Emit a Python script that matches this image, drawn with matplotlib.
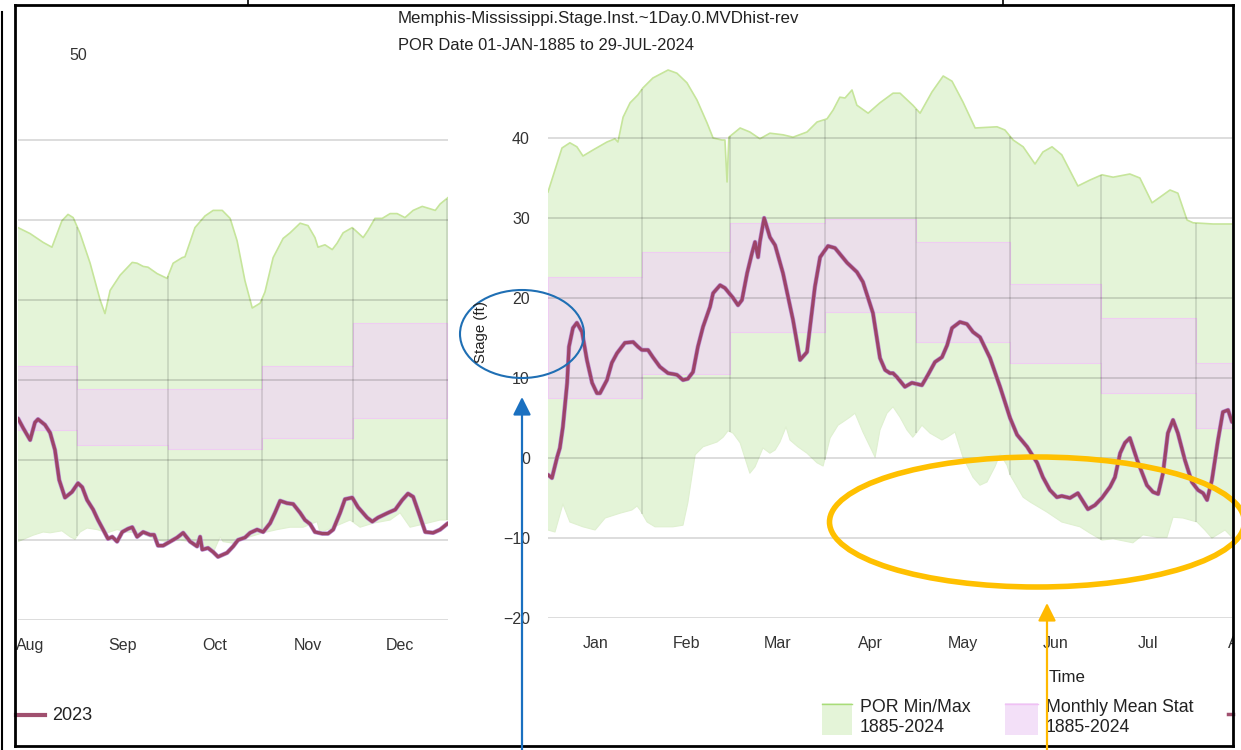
import numpy as np
import matplotlib
matplotlib.use("Agg")
import matplotlib.pyplot as plt
import matplotlib.patheffects as pe
from matplotlib.patches import Ellipse, Rectangle
from matplotlib.lines import Line2D

plt.rcParams['font.family'] = ['Liberation Sans', 'DejaVu Sans']

# ---- 2023 panel (days counted from 01-Aug-2023) ----
months_23 = ["Aug", "Sep", "Oct", "Nov", "Dec"]
month_start_23 = [0, 31, 61, 92, 122, 153]
mean_lo_23 = [3.7, 1.9, 1.4, 2.7, 5.2]
mean_hi_23 = [11.8, 8.85, 8.85, 11.8, 17.1]

max_day_23 = [11.5, 15.5, 19.8, 22.7, 24.4, 26, 28, 29.7, 32, 35.3, 38.6, 40.2, 41.9, 45.2,
              49.2, 50.8, 52.8, 54.4, 57.4, 60.7, 62.7, 65.7, 66.6, 69.9, 73.2, 75.9, 78.9,
              81.5, 83.8, 86.4, 88.8, 91.4, 93, 95.7, 99, 101.3, 104.6, 107.2, 109.5, 110.5,
              112.8, 115.2, 116.8, 118.8, 121.8, 123.7, 125.4, 127, 129.3, 131.7, 134.3,
              136.6, 139.2, 141.9, 144.9, 147.5, 149.2, 150.8, 153.4]
por_max_23 = [29.05, 28.3, 27.2, 26.6, 28.3, 29.9, 30.7, 30.3, 28.3, 24.6, 20, 18.3, 21.2, 23.1,
              24.7, 24.6, 24.2, 24.1, 23.3, 22.7, 24.6, 25.3, 25.4, 29.05, 30.5, 31.2, 31.2,
              30.2, 27.4, 22.4, 19, 19.6, 21, 25.3, 27.7, 28.4, 29.6, 29.3, 27.8, 26.6,
              26.9, 26.3, 27.1, 28.4, 29.05, 28.4, 27.8, 28.7, 30.2, 30.2, 30.8,
              30.8, 30.3, 31.2, 31.7, 31.4, 31.2, 32, 32.8]

min_day_23 = [11.5, 16.5, 19.8, 22.1, 26, 28.7, 30.3, 32, 34.3, 37.6, 40.9, 44.2, 47.5, 51.8,
              57.4, 60.7, 65, 68.3, 71.6, 75.9, 78.2, 79.2, 82.5, 87.1, 92.4, 97, 101.3,
              105.6, 110.2, 111.2, 115.5, 121.1, 124.4, 128.7, 134.3, 137.6, 140.9, 146.5,
              150.8, 153.4]
por_min_23 = [-10.2, -9.4, -9, -9.1, -8.85, -9.6, -9.9, -9, -8.5, -8.7, -9.1, -8.7, -9, -9.1,
              -10, -10.2, -10, -10.2, -10.4, -11.6, -9.6, -10.2, -10.4, -9.7, -9.1, -8.7, -8.4,
              -8.4, -7.7, -9.1, -8.4, -7.5, -8.4, -7.9, -7.5, -6.6, -8.4, -7.9,
              -7.5, -7.5]

stage_day_23 = [11.5, 13.2, 15.5, 17.1, 18.1, 20.4, 22.1, 23.7, 25.1, 27, 29.3, 31.3, 32.7, 34.3,
                36.3, 37.9, 39.6, 41.2, 42.6, 44.2, 45.9, 47.8, 49.2, 50.8, 52.8, 55.1, 56.4,
                57.7, 59.4, 61.7, 64, 66, 68.3, 70.6, 71.6, 72.3, 74.2, 75.9, 77.5, 80.5, 82.5,
                84.1, 86.4, 88.1, 90.4, 92.4, 94.7, 96.3, 98, 100.3, 102.3, 104.6, 106.2,
                107.9, 109.5, 111.9, 113.8, 115.5, 117.8, 119.4, 121.8, 123.7, 126.7, 128.4,
                130.3, 133.6, 136, 138.3, 140.2, 141.9, 144.2, 145.9, 148.5, 150.8, 153.4]
stage_23 = [5.2, 4, 2.5, 4.7, 5.1, 4.4, 3.4, 1.25, -2.5, -4.7, -4, -2.9, -3.4, -5,
            -6.2, -7.5, -8.7, -9.85, -9.6, -10.2, -9, -8.6, -8.4, -9.6, -9, -9.35, -9.35,
            -10.7, -10.7, -10.2, -9.7, -9.1, -10.2, -10.8, -9.6, -11.2, -11, -11.5, -12.1, -11.6, -10.8,
            -10, -9.7, -9.1, -8.7, -9, -7.9, -6.6, -5.1, -5.4, -5.5, -6.6, -7.5,
            -8, -9, -9.2, -9.2, -8.7, -6.6, -4.9, -4.7, -5.9, -7.2, -7.7,
            -7.2, -6.6, -6.2, -5, -4.2, -4.6, -7.1, -9, -9.1, -8.7, -7.9]

# ---- 2024 panel (days counted from 01-Jan-2024) ----
months_24 = ["Jan", "Feb", "Mar", "Apr", "May", "Jun", "Jul", "Aug"]
month_start_24 = [0, 31, 60, 91, 121, 152, 182, 213, 244]
mean_lo_24 = [7.5, 10.5, 15.75, 18.25, 14.5, 11.9, 8.1, 3.75]
mean_hi_24 = [22.6, 25.75, 29.4, 29.9, 27, 21.75, 17.5, 11.9]

max_day_24 = [0, 2.3, 4.6, 7.2, 9.5, 11.5, 14.8, 19.4, 22, 23, 24.7, 27, 29.6, 31.2, 34.5, 39.5,
              42.4, 45.7, 49, 52.3, 54.3, 57.2, 58.2, 58.9, 59.5, 63.2, 66.4, 69.7, 73, 77.3,
              80.6, 85.2, 88.5, 91.8, 93.8, 96, 97.7, 100, 101.6, 105.3, 109.2, 113.5, 115.8,
              120, 122.4, 126.3, 130, 132.9, 136.5, 140.5, 147.7, 150.3, 153, 156.3, 160.2,
              162.8, 165.8, 169, 174.3, 178.3, 182.2, 185.9, 191.4, 194.7, 198.7, 201.3,
              204.6, 207.2, 210.2, 212.2, 218.8, 225]
por_max_24 = [33.25, 36, 38.75, 39.4, 38.9, 37.75, 38.5, 39.5, 39.9, 39.5, 42.6, 44.4, 45.4, 46.25,
              47.5, 48.5, 48.1, 46.9, 44.75, 41.9, 40, 39.75, 39.75, 34.5, 40.1, 41.25, 40.75,
              39.9, 40.6, 40.4, 40.1, 40.75, 42, 42.4, 43.5, 45.1, 45, 46, 44.1, 43.1, 44.4,
              45.6, 45.6, 44.1, 43.1, 45.75, 47.75, 47.1, 44.5, 41.25, 41.4, 41, 39.75, 38.9,
              36.75, 38.25, 38.9, 37.9, 34, 34.75, 35.4, 35.1, 35.5, 35, 31.9, 32.6, 33.5,
              33.1, 29.75, 29.4, 29.25, 29.25]

min_day_24 = [0, 2.3, 4.9, 7.2, 11.5, 15.5, 18.8, 23.7, 27.6, 29.3, 30.3, 32.6, 35.2, 41.1, 44.4,
              46, 48.4, 51, 55.6, 57.6, 59.2, 60.9, 63.2, 66.4, 68.1, 70.7, 73, 74.7, 76.3,
              78.3, 79.6, 82.2, 85.2, 88.5, 90.5, 92.8, 95.4, 97, 99.3, 101, 103.6, 107.6,
              109.2, 111.5, 113.5, 115.8, 118.1, 120, 121.4, 123, 125.7, 129.6, 131.3, 133.9,
              136.5, 139.8, 142.1, 144.4, 147, 148.7, 151, 152, 156.3, 158.6, 164.1, 169, 175,
              178.3, 182.2, 185.9, 192.4, 195.7, 200.3, 203.6, 205.6, 208.9, 213.5, 216.1,
              218.4, 221, 222.7, 225]
por_min_24 = [-9, -9.25, -5.75, -8, -8.6, -9, -7.5, -6.9, -6.5, -6, -6.5, -8, -8.6, -8.6, -8.4,
              -5.6, 0.4, 1.4, 2, 2.6, 3.4, 3.1, 1.9, -1.9, -1.1, 1.25, 0.6, 1, 2,
              3.9, 2.25, 1.4, 0.6, -0.6, -1, 2.5, 4.1, 4.5, 5.1, 5.6, 3.25, 0.1,
              3.5, 5.6, 6.4, 5.1, 3.5, 2.6, 3.25, 4.1, 3.1, 2.25, 2.6, 3.25,
              0.1, -2.4, -3.4, -3, -1.1, 0.5, -0.9, -2.1, -4.9, -5.5, -6.75, -8, -8.6,
              -9.4, -10.25, -10.1, -10.6, -9.6, -9.9, -9.9, -7.4, -7.5, -8, -9,
              -10, -9.4, -9, -9.9]

stage_day_24 = [0, 1.3, 3, 3.9, 4.9, 6.3, 6.9, 8.2, 9.5, 11.2, 12.8, 14.5, 16.1, 17.1, 19.4, 21,
                22.7, 25.3, 28, 29.6, 30.9, 32.9, 34.5, 36.8, 39.5, 41.1, 42.4, 44.4, 46, 47.7,
                49.3, 51, 53.3, 54.3, 56.6, 58.2, 60.9, 62.5, 63.8, 65.5, 67.1, 68.1, 69.1, 69.7,
                71.1, 73, 74.7, 77.3, 80.6, 82.9, 85.2, 86.2, 87.8, 89.5, 92.1, 94.4, 98.4,
                101.6, 103.6, 106.9, 109.2, 110.9, 112.5, 113.5, 114.8, 117.4, 119.7, 123, 125,
                127.3, 129.6, 131.3, 132.9, 135.5, 137.8, 139.8, 142.1, 145.4, 148.7, 152,
                154.3, 157.6, 160.9, 162.8, 165.1, 167.4, 169, 171.7, 174.3, 177.6, 179.9,
                182.2, 184.9, 186.5, 188.2, 189.8, 191.4, 193.8, 197, 199, 200.7, 202.3, 203.9,
                205.6, 207.2, 209.5, 211.8, 213.8, 215.5, 216.8, 218.4, 220.4, 222, 223.7, 225]
stage_24 = [-2.1, -2.5, 0.1, 1.25, 3.9, 9.4, 13.9, 16.25, 16.9, 15.75, 12.25, 9.4, 8.1, 8.1, 9.75, 11.9,
            13.1, 14.4, 14.5, 13.9, 13.5, 13.5, 12.6, 11.4, 10.6, 10.5, 10.4, 9.75, 9.9, 10.75,
            13.9, 16.4, 18.9, 20.6, 21.6, 21.25, 20, 19.1, 19.75, 23.1, 25.6, 27, 25.1, 27,
            30, 27.6, 26.6, 23.1, 17.25, 12.25, 13.25, 16.4, 21.4, 25.1, 26.5, 26.25, 24.4,
            23.25, 22, 18.1, 12.5, 11, 10.6, 10.6, 10.1, 8.9, 9.4, 9.1, 10.4,
            12, 12.6, 14.1, 16.25, 17, 16.75, 15.75, 15.1, 12.5, 8.9, 5,
            2.9, 1.4, -0.6, -2.4, -4, -4.9, -4.75, -5, -4.4, -6.4, -5.9,
            -5, -3.6, -2.4, 0.6, 1.9, 2.5, -0.25, -3.4, -4.25, -4.5, -1.9, 3.1,
            4.75, 3.1, -0.25, -3, -4, -4.4, -5.25, -2.75, 2.25, 5.75, 6, 4.5]

GREEN = '#e4f4d8'
GREEN_EDGE = '#c6e59b'
PINK = '#ebdfea'
PINK_EDGE = '#efcdf2'
LINE = '#9c4468'

W, H = 1241, 750
fig = plt.figure(figsize=(W / 100, H / 100), dpi=100)


def panel(rect, xlim, months, starts, lo, hi, mx_d, mx, mn_d, mn, st_d, st, show_y):
    ax = fig.add_axes(rect)
    # POR envelope polygon
    poly_x = list(mx_d) + list(mn_d)[::-1]
    poly_y = list(mx) + list(mn)[::-1]
    ax.fill(poly_x, poly_y, color=GREEN, lw=0, zorder=1)
    ax.plot(mx_d, mx, color=GREEN_EDGE, lw=1.2, zorder=1.2)
    ax.plot(mn_d, mn, color='#dff0d0', lw=0.8, zorder=1.2)
    # monthly mean band
    ax.fill_between(starts, lo + [lo[-1]], hi + [hi[-1]], step='post',
                    color=PINK, edgecolor=PINK_EDGE, lw=0.8, zorder=1.3)
    # month separators inside the envelope
    for s in starts[1:]:
        if xlim[0] < s < xlim[1]:
            top = np.interp(s, mx_d, mx)
            bot = np.interp(s, mn_d, mn)
            ax.vlines(s, bot, top, color='black', alpha=0.13, lw=1.2, zorder=1.6)
    ax.plot(st_d, st, color=LINE, lw=2.3, zorder=3, solid_capstyle='round',
            path_effects=[pe.Stroke(linewidth=3.2, foreground='#b98bd2'), pe.Normal()])
    ax.set_yticks([-20, -10, 0, 10, 20, 30, 40])
    ax.grid(axis='y', color='black', alpha=0.15, lw=1.3)
    ax.set_axisbelow('line')
    mids = [(starts[i] + starts[i + 1]) / 2 for i in range(len(months))]
    ax.set_xticks(mids)
    ax.set_xticklabels(months, fontsize=11.5, color='#333333')
    ax.tick_params(axis='x', length=0, pad=13)
    ax.tick_params(axis='y', length=0, pad=13, labelsize=11.5, labelcolor='#333333')
    if not show_y:
        ax.set_yticklabels([])
    # month labels whose centre falls past the right edge (cut by the frame later)
    for m, lab in zip(mids, months):
        if m > xlim[1]:
            ax.annotate(lab, xy=(m, 0), xycoords=('data', 'axes fraction'),
                        xytext=(0, -13), textcoords='offset points', ha='center',
                        va='top', fontsize=11.5, color='#333333', annotation_clip=False)
    # limits last: set_xticks would otherwise widen the view
    ax.set_xlim(*xlim)
    ax.set_ylim(-20, 50)
    for sp in ax.spines.values():
        sp.set_visible(False)
    ax.patch.set_alpha(0)
    return ax


panel([18 / W, (H - 620) / H, 430 / W, 560 / H], (11.5, 153.4), months_23, month_start_23,
      mean_lo_23, mean_hi_23, max_day_23, por_max_23, min_day_23, por_min_23,
      stage_day_23, stage_23, False)
panel([548 / W, (H - 618) / H, 684 / W, 560 / H], (0, 225), months_24, month_start_24,
      mean_lo_24, mean_hi_24, max_day_24, por_max_24, min_day_24, por_min_24,
      stage_day_24, stage_24, True)

# overlay in pixel units for the screenshot frame, titles and markup
ov = fig.add_axes([0, 0, 1, 1], zorder=10)
ov.set_xlim(0, W)
ov.set_ylim(H, 0)
ov.axis('off')
ov.patch.set_alpha(0)

ov.add_patch(Rectangle((0, 0), 15, H, fc='white', ec='none'))
ov.add_patch(Rectangle((1234, 0), 10, H, fc='white', ec='none'))

ov.text(398, 18, "Memphis-Mississippi.Stage.Inst.~1Day.0.MVDhist-rev", fontsize=12.2,
        color='#222222', va='center', ha='left')
ov.text(398, 46, "POR Date 01-JAN-1885 to 29-JUL-2024", fontsize=11.9,
        color='#222222', va='center', ha='left')
ov.text(78, 55, "50", fontsize=11.5, color='#333333', ha='center', va='center')
ov.text(481, 332, "Stage (ft)", fontsize=10.8, rotation=90, color='#222222',
        ha='center', va='center')
ov.text(1067, 677, "Time", fontsize=12.2, color='#222222', ha='center', va='center')

# legends
ov.add_line(Line2D([16, 45], [715, 715], color='#a0506f', lw=3))
ov.text(52, 715, "2023", fontsize=13, color='#222222', va='center')
ov.add_patch(Rectangle((822, 703), 30, 32, fc=GREEN, ec='none'))
ov.add_line(Line2D([822, 852], [703.5, 703.5], color='#a9dc78', lw=1))
ov.text(860, 708, "POR Min/Max", fontsize=12.8, color='#222222', va='center')
ov.text(860, 728, "1885-2024", fontsize=12.8, color='#222222', va='center')
ov.add_patch(Rectangle((1005, 703), 33, 32, fc='#f3e0f8', ec='none'))
ov.add_line(Line2D([1005, 1038], [703.5, 703.5], color='#f0c0f4', lw=1))
ov.text(1046, 708, "Monthly Mean Stat", fontsize=12.7, color='#222222', va='center')
ov.text(1046, 728, "1885-2024", fontsize=12.7, color='#222222', va='center')
ov.add_line(Line2D([1228, 1233], [714, 714], color='#a0506f', lw=2.5))

# markup: circle + arrows
ov.add_patch(Ellipse((522, 334), 124, 88, fill=False, ec='#1f6fb4', lw=1.5))
ov.annotate('', xy=(522, 397), xytext=(522, 752),
            arrowprops=dict(arrowstyle='-|>,head_length=0.6,head_width=0.3',
                            color='#1a70c0', lw=1.6, mutation_scale=18, shrinkA=0, shrinkB=0))
ov.add_patch(Ellipse((1037, 522), 415, 130, fill=False, ec='#ffc000', lw=4))
ov.annotate('', xy=(1047, 603), xytext=(1047, 752),
            arrowprops=dict(arrowstyle='-|>,head_length=0.6,head_width=0.3',
                            color='#ffb900', lw=1.6, mutation_scale=18, shrinkA=0, shrinkB=0))

# screenshot frame
frame = dict(color='black', lw=2, solid_capstyle='projecting')
ov.add_line(Line2D([15, 15], [5, 746], **frame))
ov.add_line(Line2D([15, 1233], [5, 5], **frame))
ov.add_line(Line2D([1233, 1233], [5, 746], **frame))
ov.add_line(Line2D([15, 1233], [746, 746], **frame))
ov.add_line(Line2D([1.5, 1.5], [12, 750], color='black', lw=1.5))
ov.add_line(Line2D([248, 248], [0, 5], color='black', lw=1.2))
ov.add_line(Line2D([1003, 1003], [0, 5], color='black', lw=1.2))

fig.savefig("out.png", dpi=100)
